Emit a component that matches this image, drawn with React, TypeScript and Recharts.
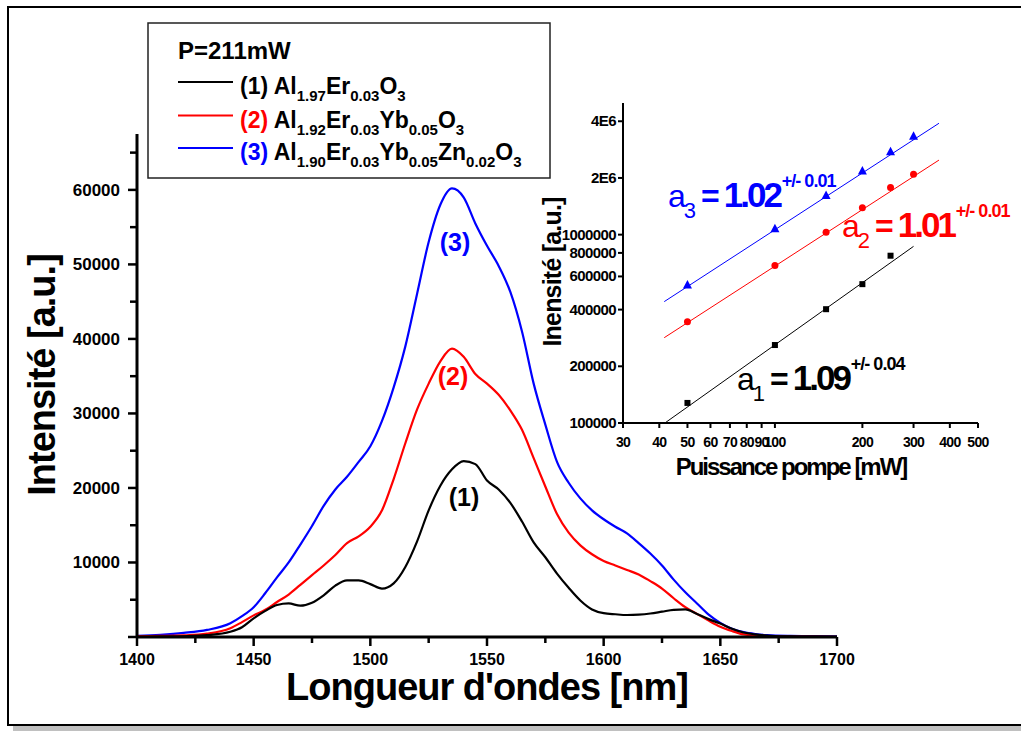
import React from 'react';
import { LineChart, Line, XAxis, YAxis, ScatterChart, Scatter, ReferenceLine } from 'recharts';

const FONT = '"Liberation Sans", Arial, Helvetica, sans-serif';

// --- main spectrum (nm vs intensity) ---
const wavelength = [
  1400, 1410, 1420, 1430, 1440, 1445, 1450, 1455, 1460, 1465, 1470, 1475, 1480, 1485, 1490, 1495,
  1500, 1505, 1510, 1515, 1520, 1525, 1530, 1535, 1540, 1545, 1550, 1555, 1560, 1565, 1570, 1575,
  1580, 1585, 1590, 1595, 1600, 1605, 1610, 1615, 1620, 1625, 1630, 1635, 1640, 1645, 1650, 1655,
  1660, 1665, 1670, 1680, 1690, 1700,
];
// (1) Al1.97Er0.03O3
const spectrum1 = [
  0, 50, 100, 250, 700, 1300, 2500, 3500, 4300, 4500, 4200, 4600, 5600, 6900, 7600, 7600,
  7100, 6500, 7200, 9400, 12800, 17000, 20300, 22500, 23600, 23200, 21000, 19800, 18000, 15500, 12700, 10700,
  8500, 6600, 4900, 3700, 3200, 3050, 2950, 3000, 3150, 3400, 3650, 3700, 3100, 2400, 1800, 1100,
  600, 350, 200, 80, 40, 20,
];
// (2) Al1.92Er0.03Yb0.05O3
const spectrum2 = [
  100, 150, 220, 450, 1170, 2000, 2900, 3650, 4700, 5700, 7000, 8300, 9600, 11000, 12600, 13500,
  14800, 17000, 21200, 26000, 30500, 34000, 37000, 38700, 37600, 35300, 34000, 32500, 30400, 27800, 24000, 20200,
  16500, 14000, 12300, 11100, 10200, 9600, 9000, 8400, 7500, 6500, 5200, 4000, 3100, 2200, 1380, 800,
  350, 200, 120, 60, 40, 30,
];
// (3) Al1.90Er0.03Yb0.05Zn0.02O3
const spectrum3 = [
  150, 300, 550, 950, 1840, 2800, 4000, 5900, 8000, 10000, 12400, 14900, 17600, 19800, 21500, 23500,
  25600, 29000, 33500, 39000, 46000, 53000, 58000, 60200, 59000, 55500, 52500, 49800, 46300, 41000, 34000, 28500,
  23500, 20700, 18600, 17000, 15800, 14800, 13900, 12600, 11200, 9600, 7700, 6000, 4500, 3000, 1900, 1100,
  650, 400, 250, 150, 120, 100,
];
const mainXTicks = [1400, 1425, 1450, 1475, 1500, 1525, 1550, 1575, 1600, 1625, 1650, 1675, 1700];
const mainYTicks = [0, 5000, 10000, 15000, 20000, 25000, 30000, 35000, 40000, 45000, 50000, 55000, 60000, 65000];

// --- inset (pump power vs intensity, log-log) ---
const power = [50, 100, 150, 200, 250, 300];
const inten3 = [541000, 1076000, 1614000, 2175000, 2758000, 3327000];
const inten2 = [345000, 686000, 1029000, 1388000, 1780000, 2095000];
const power1 = [50, 100, 150, 200, 250];
const inten1 = [127800, 259400, 402000, 546000, 773000];
const fit3P = [41.6, 367];
const fit3V = [441000, 3903000];
const fit2P = [41.6, 367];
const fit2V = [283800, 2488000];
const fit1P = [42.2, 300];
const fit1V = [101000, 866500];
const insetXTicks = [30, 40, 50, 60, 70, 80, 90, 100, 200, 300, 400, 500];
const insetYTicks = [100000, 200000, 400000, 600000, 800000, 1000000, 2000000, 4000000];

const mainData = wavelength.map((w, i) => ({ w, s1: spectrum1[i], s2: spectrum2[i], s3: spectrum3[i] }));
const pts3 = power.map((p, i) => ({ p, v: inten3[i] }));
const pts2 = power.map((p, i) => ({ p, v: inten2[i] }));
const pts1 = power1.map((p, i) => ({ p, v: inten1[i] }));
const seg = (ps: number[], vs: number[]) => ps.map((p, i) => ({ x: p, y: vs[i] }));

const legendRows = [
  { color: '#000000', num: '(1)', parts: [['Al', '1.97'], ['Er', '0.03'], ['O', '3']] },
  { color: '#ff0000', num: '(2)', parts: [['Al', '1.92'], ['Er', '0.03'], ['Yb', '0.05'], ['O', '3']] },
  { color: '#0000ff', num: '(3)', parts: [['Al', '1.90'], ['Er', '0.03'], ['Yb', '0.05'], ['Zn', '0.02'], ['O', '3']] },
];

const MainXTick = (props: any) => {
  const { x, y, payload } = props;
  const major = payload.value % 50 === 0;
  return (
    <g>
      <line x1={x} y1={y} x2={x} y2={y + (major ? 9 : 6)} stroke="#000" strokeWidth={2.5} />
      {major && (
        <text x={x} y={y + 28} textAnchor="middle" fontSize={16} fontWeight="bold" fontFamily={FONT} fill="#000">
          {payload.value}
        </text>
      )}
    </g>
  );
};

const MainYTick = (props: any) => {
  const { x, y, payload } = props;
  const major = payload.value % 10000 === 0;
  return (
    <g>
      <line x1={x} y1={y} x2={x - (major ? 9 : 7)} y2={y} stroke="#000" strokeWidth={2.5} />
      {major && payload.value > 0 && (
        <text x={x - 17} y={y + 6} textAnchor="end" fontSize={17} fontWeight="bold" fontFamily={FONT} fill="#000">
          {payload.value}
        </text>
      )}
    </g>
  );
};

const InsetXTick = (props: any) => {
  const { x, y, payload } = props;
  return (
    <g>
      <line x1={x} y1={y} x2={x} y2={y + 5} stroke="#000" strokeWidth={2} />
      <text x={x} y={y + 24} textAnchor="middle" fontSize={14} fontWeight="bold" fontFamily={FONT} fill="#000" letterSpacing={-0.7}>
        {payload.value}
      </text>
    </g>
  );
};

const fmtInsetY = (v: number) => (v >= 2000000 ? `${v / 1000000}E6` : String(v));

const InsetYTick = (props: any) => {
  const { x, y, payload } = props;
  return (
    <g>
      <line x1={x} y1={y} x2={x - 5} y2={y} stroke="#000" strokeWidth={2} />
      <text x={x - 7} y={y + 5} textAnchor="end" fontSize={15} fontWeight="bold" fontFamily={FONT} fill="#000" letterSpacing={-0.6}>
        {fmtInsetY(payload.value)}
      </text>
    </g>
  );
};

const Triangle = (props: any) => {
  const { cx, cy } = props;
  return <polygon points={`${cx},${cy - 5} ${cx - 4.5},${cy + 3.5} ${cx + 4.5},${cy + 3.5}`} fill="#0000ff" />;
};
const Dot = (props: any) => <circle cx={props.cx} cy={props.cy} r={3.5} fill="#ff0000" />;
const Square = (props: any) => <rect x={props.cx - 3} y={props.cy - 3} width={6} height={6} fill="#000000" />;

const Annot = ({ x, y, color, idx, value, err }: any) => (
  <text x={x} y={y} fill={color} fontFamily={FONT} style={{ whiteSpace: 'pre' }}>
    <tspan fontSize={32}>a</tspan>
    <tspan fontSize={22} dx={-2} dy={11}>{idx}</tspan>
    <tspan fontSize={32} fontWeight="bold" dx={5} dy={-11}>=</tspan>
    <tspan fontSize={35} fontWeight="bold" dx={4} letterSpacing={-3}>{value}</tspan>
    <tspan fontSize={18} fontWeight="bold" dx={2} dy={-20} letterSpacing={-1}>{err}</tspan>
  </text>
);

const LegendRow = ({ row, baseline }: any) => (
  <g>
    <line x1={178} y1={baseline - 12} x2={233} y2={baseline - 12} stroke={row.color} strokeWidth={2} />
    <text x={240} y={baseline} fontSize={23} fontWeight="bold" fontFamily={FONT} fill="#000" style={{ whiteSpace: 'pre' }}>
      <tspan fill={row.color}>{row.num}</tspan>
      <tspan> </tspan>
      {row.parts.map(([el, sub]: string[], i: number) => (
        <React.Fragment key={i}>
          <tspan dy={i === 0 ? 0 : -7}>{el}</tspan>
          <tspan fontSize={15} dy={7}>{sub}</tspan>
        </React.Fragment>
      ))}
    </text>
  </g>
);

const layer: React.CSSProperties = { position: 'absolute', left: 0, top: 0 };

export default function App() {
  return (
    <div style={{ position: 'absolute', left: 0, top: 0, width: 1021, height: 731, background: '#fff', fontFamily: FONT, overflow: 'hidden' }}>
      <svg width={1021} height={731} style={layer}>
        <rect x={13} y={726} width={1010} height={5} fill="#c0c0c0" />
        <rect x={8} y={7} width={1040} height={718} fill="none" stroke="#000" strokeWidth={2} />
      </svg>

      <div style={layer}>
        <LineChart width={1021} height={731} data={mainData} margin={{ top: 134, right: 184, bottom: 34, left: 37 }}>
          <XAxis
            dataKey="w"
            type="number"
            domain={[1400, 1700]}
            ticks={mainXTicks}
            interval={0}
            tickSize={0}
            tickMargin={0}
            tickLine={false}
            tick={(p: any) => <MainXTick {...p} />}
            axisLine={{ stroke: '#000', strokeWidth: 3 }}
            height={60}
            allowDataOverflow
          />
          <YAxis
            type="number"
            domain={[0, 67500]}
            ticks={mainYTicks}
            interval={0}
            tickSize={0}
            tickMargin={0}
            tickLine={false}
            tick={(p: any) => <MainYTick {...p} />}
            axisLine={{ stroke: '#000', strokeWidth: 3 }}
            width={100}
            allowDataOverflow
          />
          <Line type="monotone" dataKey="s3" stroke="#0000ff" strokeWidth={2.2} dot={false} isAnimationActive={false} />
          <Line type="monotone" dataKey="s2" stroke="#ff0000" strokeWidth={2.2} dot={false} isAnimationActive={false} />
          <Line type="monotone" dataKey="s1" stroke="#000000" strokeWidth={2.2} dot={false} isAnimationActive={false} />
        </LineChart>
      </div>

      <div style={layer}>
        <ScatterChart width={1021} height={731} margin={{ top: 103, right: 43, bottom: 268, left: 543 }}>
          <XAxis
            dataKey="p"
            type="number"
            scale="log"
            domain={[30, 500]}
            ticks={insetXTicks}
            interval={0}
            tickSize={0}
            tickMargin={0}
            tickLine={false}
            tick={(p: any) => <InsetXTick {...p} />}
            axisLine={{ stroke: '#000', strokeWidth: 2 }}
            height={40}
            allowDataOverflow
          />
          <YAxis
            dataKey="v"
            type="number"
            scale="log"
            domain={[100000, 5000000]}
            ticks={insetYTicks}
            interval={0}
            tickSize={0}
            tickMargin={0}
            tickLine={false}
            tick={(p: any) => <InsetYTick {...p} />}
            axisLine={{ stroke: '#000', strokeWidth: 2 }}
            width={80}
            allowDataOverflow
          />
          <ReferenceLine segment={seg(fit3P, fit3V)} stroke="#0000ff" strokeWidth={1} />
          <ReferenceLine segment={seg(fit2P, fit2V)} stroke="#ff0000" strokeWidth={1} />
          <ReferenceLine segment={seg(fit1P, fit1V)} stroke="#000000" strokeWidth={1} />
          <Scatter data={pts3} shape={(p: any) => <Triangle {...p} />} isAnimationActive={false} />
          <Scatter data={pts2} shape={(p: any) => <Dot {...p} />} isAnimationActive={false} />
          <Scatter data={pts1} shape={(p: any) => <Square {...p} />} isAnimationActive={false} />
        </ScatterChart>
      </div>

      <svg width={1021} height={731} style={{ ...layer, pointerEvents: 'none' }}>
        {/* main axis titles */}
        <text x={487} y={700} textAnchor="middle" fontSize={38} fontWeight="bold" fontFamily={FONT} letterSpacing={-1}>
          Longueur d'ondes [nm]
        </text>
        <text x={55} y={375} transform="rotate(-90 55 375)" textAnchor="middle" fontSize={38} fontWeight="bold" fontFamily={FONT} letterSpacing={-1}>
          Intensité [a.u.]
        </text>

        {/* curve labels */}
        <text x={455} y={251} textAnchor="middle" fontSize={25} fontWeight="bold" fontFamily={FONT} fill="#0000ff">(3)</text>
        <text x={453} y={385} textAnchor="middle" fontSize={25} fontWeight="bold" fontFamily={FONT} fill="#ff0000">(2)</text>
        <text x={464} y={506} textAnchor="middle" fontSize={25} fontWeight="bold" fontFamily={FONT} fill="#000">(1)</text>

        {/* legend */}
        <rect x={148} y={23} width={402} height={155} fill="none" stroke="#222" strokeWidth={1.5} />
        <text x={178} y={59} fontSize={24} fontWeight="bold" fontFamily={FONT}>P=211mW</text>
        <LegendRow row={legendRows[0]} baseline={94} />
        <LegendRow row={legendRows[1]} baseline={127.5} />
        <LegendRow row={legendRows[2]} baseline={160} />

        {/* inset titles */}
        <text x={791} y={475} textAnchor="middle" fontSize={24} fontWeight="bold" fontFamily={FONT} letterSpacing={-2}>
          Puissance pompe [mW]
        </text>
        <text x={561} y={272} transform="rotate(-90 561 272)" textAnchor="middle" fontSize={25} fontWeight="bold" fontFamily={FONT} letterSpacing={-0.8}>
          Inensité [a.u.]
        </text>

        {/* slope annotations */}
        <Annot x={668} y={207} color="#0000ff" idx="3" value="1.02" err="+/- 0.01" />
        <Annot x={842} y={237} color="#ff0000" idx="2" value="1.01" err="+/- 0.01" />
        <Annot x={737} y={390} color="#000000" idx="1" value="1.09" err="+/- 0.04" />
      </svg>
    </div>
  );
}
